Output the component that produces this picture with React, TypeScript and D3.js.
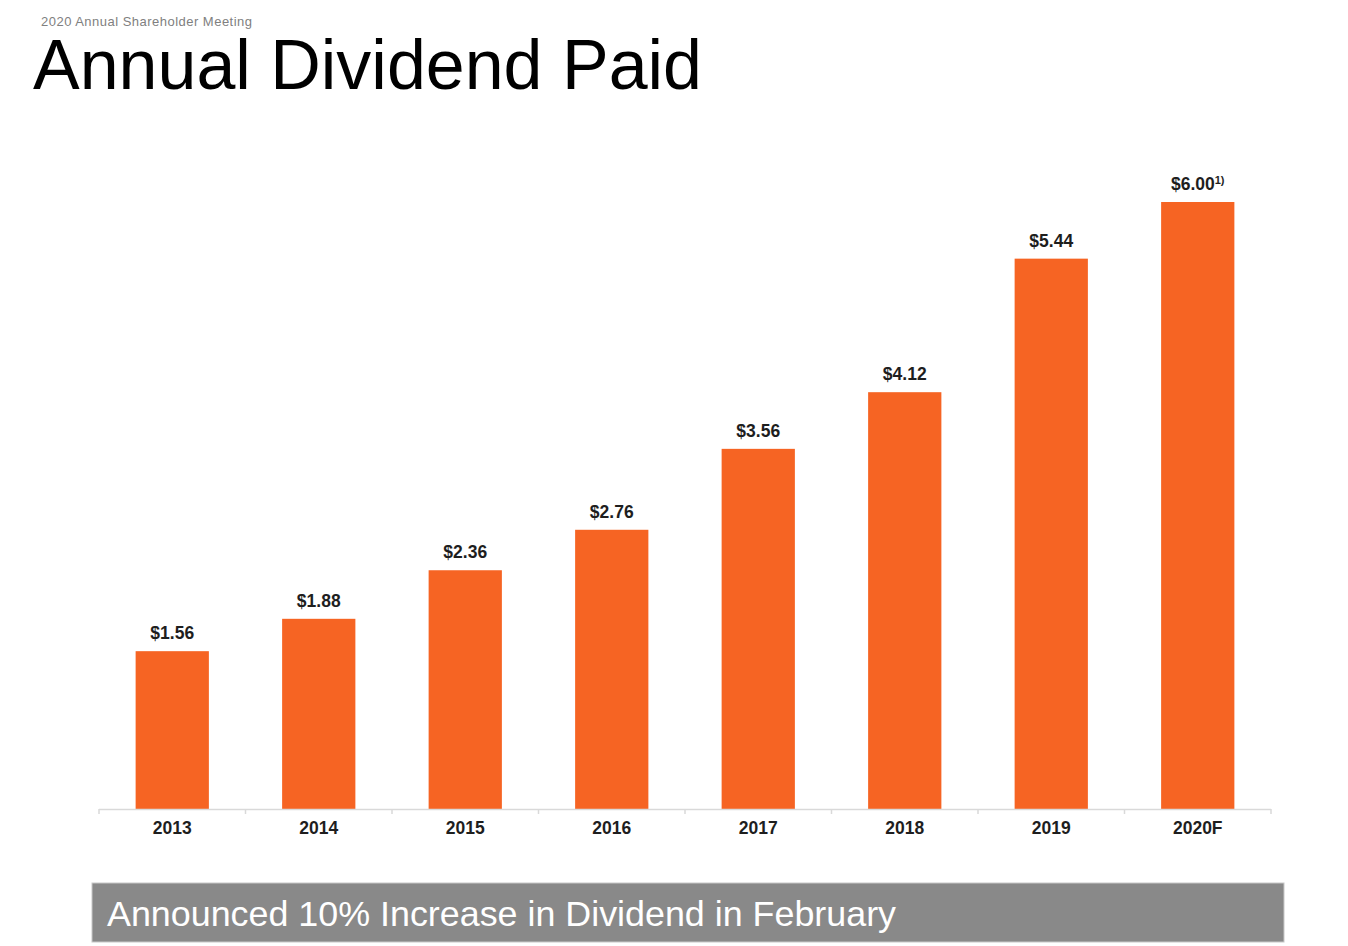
import React from "react";
import * as d3 from "d3";

const categories = ["2013", "2014", "2015", "2016", "2017", "2018", "2019", "2020F"];
const values = [1.56, 1.88, 2.36, 2.76, 3.56, 4.12, 5.44, 6.0];
const labels = ["$1.56", "$1.88", "$2.36", "$2.76", "$3.56", "$4.12", "$5.44", "$6.00"];
const footnotes = ["", "", "", "", "", "", "", "1)"];

const W = 1348;
const H = 946;
const font = "'Liberation Sans', Arial, Helvetica, sans-serif";

export default function App() {
  const x = d3.scaleBand<string>().domain(categories).range([99, 1271]).paddingInner(0.5).paddingOuter(0.25);
  const y = d3.scaleLinear().domain([0, 6]).range([809, 202]);
  const step = x.step();
  const ticks = d3.range(categories.length + 1).map((i) => 99 + i * step);

  return (
    <svg width={W} height={H} style={{ position: "absolute", left: 0, top: 0, background: "#fff" }}>
      <rect x={0} y={0} width={W} height={H} fill="#fff" />
      <text x={41} y={26} fontFamily={font} fontSize={13} fill="#808080" textLength={211} lengthAdjust="spacing">
        2020 Annual Shareholder Meeting
      </text>
      <text x={33} y={89} fontFamily={font} fontSize={71} fill="#000" textLength={669} lengthAdjust="spacingAndGlyphs">
        Annual Dividend Paid
      </text>

      {categories.map((c, i) => (
        <g key={c}>
          <rect x={x(c)} y={y(values[i])} width={x.bandwidth()} height={y(0) - y(values[i])} fill="#F66423" />
          <text
            x={(x(c) as number) + x.bandwidth() / 2}
            y={y(values[i]) - 12}
            textAnchor="middle"
            fontFamily={font}
            fontWeight="bold"
            fontSize={17.5}
            fill="#1e1e1e"
          >
            {labels[i]}
            {footnotes[i] && (
              <tspan fontSize={11} dy={-6}>
                {footnotes[i]}
              </tspan>
            )}
          </text>
          <text
            x={(x(c) as number) + x.bandwidth() / 2}
            y={834}
            textAnchor="middle"
            fontFamily={font}
            fontWeight="bold"
            fontSize={17.5}
            fill="#1e1e1e"
          >
            {c}
          </text>
        </g>
      ))}

      <line x1={99} x2={1271} y1={809.5} y2={809.5} stroke="#d9d9d9" strokeWidth={1.5} />
      {ticks.map((t, i) => (
        <line key={i} x1={t} x2={t} y1={809} y2={814} stroke="#d9d9d9" strokeWidth={1.5} />
      ))}

      <rect x={92} y={883} width={1192} height={59} fill="#898989" stroke="#c8c8c8" strokeWidth={1} />
      <text x={107} y={926} fontFamily={font} fontSize={35} fill="#fff" textLength={789} lengthAdjust="spacingAndGlyphs">
        Announced 10% Increase in Dividend in February
      </text>
    </svg>
  );
}
